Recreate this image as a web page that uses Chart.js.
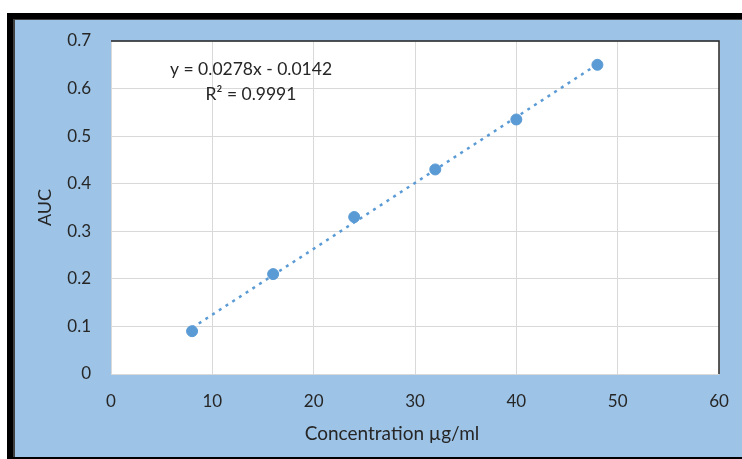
<!DOCTYPE html>
<html>
<head>
<meta charset="utf-8">
<script src="https://cdn.jsdelivr.net/npm/chart.js@4.4.1/dist/chart.umd.min.js"></script>
<style>
  body { margin: 0; background: #ffffff; }
  #wrap { width: 742px; height: 459px; position: relative; }
</style>
</head>
<body>
<div id="wrap"><canvas id="calib" width="742" height="459"></canvas></div>
<script>
// data
const concentration = [8, 16, 24, 32, 40, 48];
const auc = [0.09, 0.21, 0.33, 0.43, 0.535, 0.65];
const trendX = [8, 48];
const trendY = [0.097, 0.651];
const equationText = ['y = 0.0278x - 0.0142', 'R\u00B2 = 0.9991'];
const xTitle = 'Concentration \u00B5g/ml';
const yTitle = 'AUC';

const FONT = 'Lato, "Open Sans", sans-serif';
const TEXT = '#262626';

// FRAME + PLOT AREA BACKGROUND
const frame = {
    id: 'frame',
    beforeDraw(chart) {
        const c = chart.ctx;
        const a = chart.chartArea;
        c.save();
        c.fillStyle = '#ffffff';
        c.fillRect(0, 0, chart.width, chart.height);
        c.fillStyle = '#9dc3e6';
        c.fillRect(7, 13, chart.width - 7, chart.height - 13);
        c.fillStyle = '#000000';
        c.fillRect(7, 13, chart.width - 7, 6);
        c.fillRect(7, 13, 6, chart.height - 13);
        c.fillRect(7, chart.height - 2, chart.width - 7, 2);
        c.fillStyle = '#404040';
        c.fillRect(13, 19, 2, chart.height - 21);
        c.fillRect(13, 19, chart.width - 13, 1);
        c.fillStyle = '#ffffff';
        c.fillRect(a.left, a.top, a.right - a.left, a.bottom - a.top);
        c.restore();
    },
    afterDraw(chart) {
        const c = chart.ctx;
        const a = chart.chartArea;
        c.save();
        c.strokeStyle = '#262626';
        c.lineWidth = 1.5;
        c.beginPath();
        c.moveTo(a.left, a.top);
        c.lineTo(a.right, a.top);
        c.lineTo(a.right, a.bottom);
        c.stroke();
        c.fillStyle = TEXT;
        c.textAlign = 'center';
        c.textBaseline = 'middle';
        // equation label
        c.font = '17.5px ' + FONT;
        c.fillText(equationText[0], 251, 69);
        c.fillText(equationText[1], 251, 94);
        // x axis title, centred on the whole chart like the original
        c.font = '19px ' + FONT;
        c.fillText(xTitle, 392, 434);
        c.restore();
    }
};

const ctx = document.getElementById('calib').getContext('2d');
new Chart(ctx, {
    type: 'scatter',
    data: {
        datasets: [{
            label: 'AUC',
            data: concentration.map((x, i) => ({x: x, y: auc[i]})),
            backgroundColor: '#5b9bd5',
            borderColor: '#5b9bd5',
            pointRadius: 5.5,
            pointHoverRadius: 5.5,
            order: 1
        }, {
            label: 'Linear',
            type: 'line',
            data: trendX.map((x, i) => ({x: x, y: trendY[i]})),
            borderColor: '#5b9bd5',
            borderWidth: 2.5,
            borderDash: [3, 5],
            pointRadius: 0,
            fill: false,
            order: 2
        }]
    },
    options: {
        responsive: false,
        animation: false,
        events: [],
        layout: { padding: { top: 41, right: 23, left: 0, bottom: 0 } },
        plugins: { legend: { display: false }, tooltip: { enabled: false } },
        scales: {
            x: {
                type: 'linear',
                min: 0, max: 60,
                afterFit: function(scale) {
                    scale.height = 85;
                    scale.paddingLeft = 0;
                    scale.paddingRight = 0;
                },
                border: { display: false },
                grid: { color: '#d9d9d9', lineWidth: 1, drawTicks: false },
                ticks: { stepSize: 10, padding: 17, color: TEXT, font: { family: FONT, size: 17 } },
                title: { display: false }
            },
            y: {
                min: 0, max: 0.7,
                afterFit: function(scale) { scale.width = 111; },
                border: { display: false },
                grid: { color: '#d9d9d9', lineWidth: 1, drawTicks: false },
                ticks: { stepSize: 0.1, padding: 20, color: TEXT, font: { family: FONT, size: 17 },
                    callback: function(v) { return Math.round(v * 10) / 10; } },
                title: { display: true, text: yTitle, color: TEXT, padding: { top: 34, bottom: 0 }, font: { family: FONT, size: 18 } }
            }
        }
    },
    plugins: [frame]
});
</script>
</body>
</html>
